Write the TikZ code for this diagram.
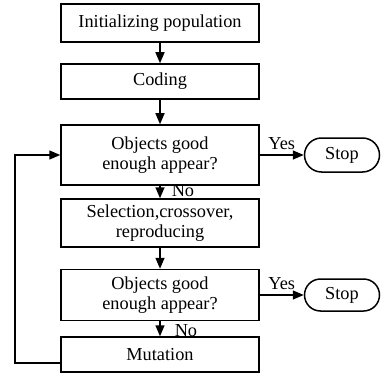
\documentclass[tikz,border=0pt]{standalone}
\usepackage{fontspec}
\setmainfont{Liberation Serif}
\usetikzlibrary{arrows.meta,shapes.misc}
\begin{document}
\begin{tikzpicture}[x=1pt,y=-1pt,
  every node/.style={font=\fontsize{18.3}{19.5}\selectfont},
  proc/.style={draw,line width=1.5pt,minimum width=198pt,inner sep=0pt,align=center},
  term/.style={draw,line width=1.5pt,rounded rectangle,minimum width=75pt,inner sep=0pt},
  conn/.style={line width=1.5pt,-{Triangle[length=11pt,width=9pt]}},
  lbl/.style={inner sep=0pt}]
\useasboundingbox (0,0) rectangle (382,385);
\node[proc,minimum height=38pt] (init) at (160,23) {Initializing population};
\node[proc,minimum height=35pt] (cod) at (160,81.5) {Coding};
\node[proc,minimum height=60pt] (obj1) at (160,155) {Objects good\\enough appear?};
\node[proc,minimum height=48pt] (sel) at (160,223) {Selection,crossover,\\reproducing};
\node[proc,minimum height=51pt] (obj2) at (160,295) {Objects good\\enough appear?};
\node[proc,minimum height=35pt] (mut) at (160,354.5) {Mutation};
\node[term,minimum height=34pt] (stop1) at (342,155) {Stop};
\node[term,minimum height=32pt] (stop2) at (342,295) {Stop};
\draw[conn] (init) -- (cod);
\draw[conn] (cod) -- (obj1);
\draw[conn] (obj1) -- (sel) node[lbl,pos=0.4,anchor=west,xshift=11pt] (no1) {No};
\draw[conn] (sel) -- (obj2);
\draw[conn] (obj2) -- (mut) node[lbl,pos=0.6,anchor=west,xshift=14pt] (no2) {No};
\draw[conn] (obj1) -- (stop1) node[lbl,pos=0.5,anchor=south,yshift=5pt] (yes1) {Yes};
\draw[conn] (obj2) -- (stop2) node[lbl,pos=0.5,anchor=south,yshift=5pt] (yes2) {Yes};
\coordinate (lb) at (15,363);
\draw[conn] (mut.west |- lb) -- (lb) |- (obj1.west);
\end{tikzpicture}
\end{document}
